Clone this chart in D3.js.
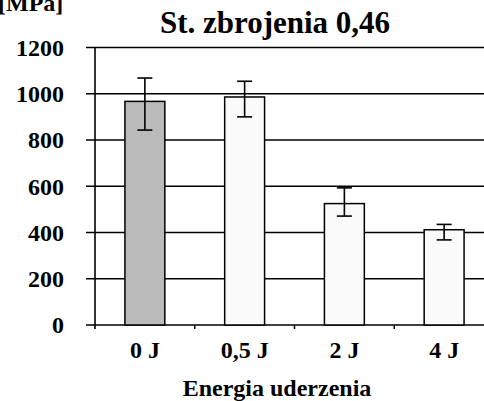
<!DOCTYPE html>
<html>
<head>
<meta charset="utf-8">
<script src="https://cdn.jsdelivr.net/npm/d3@7"></script>
<style>
  body { margin: 0; background: #fff; }
  svg { display: block; }
</style>
</head>
<body>
<svg width="484" height="401"></svg>
<script>
  // values
  const categories = ["0 J", "0,5 J", "2 J", "4 J"];
  const values = [967, 986, 525, 412];
  const errTop = [1068, 1054, 593, 435];
  const errBottom = [843, 900, 471, 368];
  const barColors = ["#bababa", "#fafafa", "#fafafa", "#fafafa"];
  const yTicks = [0, 200, 400, 600, 800, 1000, 1200];

  (function () {
    const font = "'Liberation Serif', 'Times New Roman', Times, serif";
    const svg = d3.select("svg")
      .attr("font-family", font)
      .attr("font-weight", "bold");
    const plotLeft = 95, plotRight = 494, plotTop = 47.5, plotBottom = 325;

    const x = d3.scaleBand()
      .domain(categories)
      .range([plotLeft, plotRight])
      .paddingInner(0.6)
      .paddingOuter(0.3);

    const y = d3.scaleLinear()
      .domain([0, 1200])
      .range([plotBottom, plotTop]);

    // gridlines
    svg.append("g")
      .selectAll("line")
      .data(yTicks)
      .enter().append("line")
      .attr("x1", plotLeft - 9)
      .attr("x2", plotRight)
      .attr("y1", d => y(d))
      .attr("y2", d => y(d))
      .attr("stroke", "#000")
      .attr("stroke-width", 1.6);

    // y axis line
    svg.append("line")
      .attr("x1", plotLeft).attr("x2", plotLeft)
      .attr("y1", y(1200)).attr("y2", plotBottom + 4)
      .attr("stroke", "#000")
      .attr("stroke-width", 1.6);

    // y tick labels
    svg.append("g")
      .selectAll("text")
      .data(yTicks)
      .enter().append("text")
      .attr("x", 64)
      .attr("y", d => y(d))
      .attr("dy", "0.35em")
      .attr("text-anchor", "end")
      .attr("font-size", 24)
      .text(d => d);

    // x tick marks at band boundaries
    svg.append("g")
      .selectAll("line")
      .data(categories)
      .enter().append("line")
      .attr("x1", d => x(d) + x.bandwidth() / 2 + x.step() / 2)
      .attr("x2", d => x(d) + x.bandwidth() / 2 + x.step() / 2)
      .attr("y1", plotBottom)
      .attr("y2", plotBottom + 4)
      .attr("stroke", "#000")
      .attr("stroke-width", 1.5);

    // bars
    svg.append("g")
      .selectAll("rect")
      .data(categories)
      .enter().append("rect")
      .attr("x", d => x(d))
      .attr("y", (d, i) => y(values[i]))
      .attr("width", x.bandwidth())
      .attr("height", (d, i) => plotBottom - y(values[i]))
      .attr("fill", (d, i) => barColors[i])
      .attr("stroke", "#000")
      .attr("stroke-width", 1.5);

    // error bars
    const cx = d => x(d) + x.bandwidth() / 2;
    const err = svg.append("g")
      .selectAll("g")
      .data(categories)
      .enter().append("g")
      .attr("stroke", "#000")
      .attr("stroke-width", 1.6);

    err.append("line")
      .attr("x1", cx).attr("x2", cx)
      .attr("y1", (d, i) => y(errTop[i]))
      .attr("y2", (d, i) => y(errBottom[i]));
    err.append("line")
      .attr("x1", d => cx(d) - 7.5).attr("x2", d => cx(d) + 7.5)
      .attr("y1", (d, i) => y(errTop[i]))
      .attr("y2", (d, i) => y(errTop[i]));
    err.append("line")
      .attr("x1", d => cx(d) - 7.5).attr("x2", d => cx(d) + 7.5)
      .attr("y1", (d, i) => y(errBottom[i]))
      .attr("y2", (d, i) => y(errBottom[i]));

    // x tick labels
    svg.append("g")
      .selectAll("text")
      .data(categories)
      .enter().append("text")
      .attr("x", d => cx(d))
      .attr("y", 358)
      .attr("text-anchor", "middle")
      .attr("font-size", 24)
      .text(d => d);

    // titles
    svg.append("text")
      .attr("x", 275).attr("y", 33)
      .attr("text-anchor", "middle")
      .attr("font-size", 31)
      .text("St. zbrojenia 0,46");

    svg.append("text")
      .attr("x", 277).attr("y", 396)
      .attr("text-anchor", "middle")
      .attr("font-size", 24)
      .text("Energia uderzenia");

    svg.append("text")
      .attr("x", -2).attr("y", 11)
      .attr("font-size", 24)
      .text("[MPa]");
  }());
</script>
</body>
</html>
